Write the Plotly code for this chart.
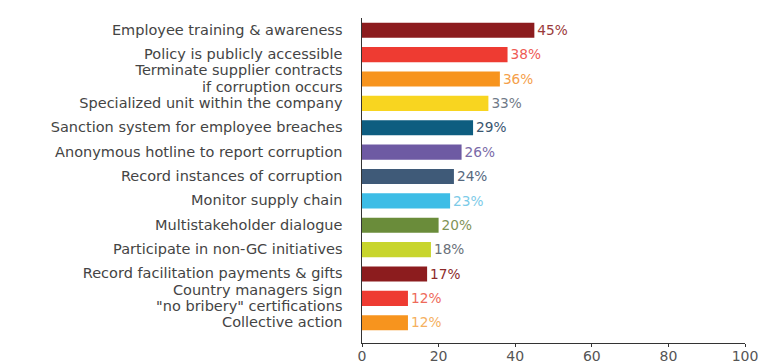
import plotly.graph_objects as go

categories = [
    "Employee training & awareness",
    "Policy is publicly accessible",
    "Terminate supplier contracts<br>if corruption occurs",
    "Specialized unit within the company",
    "Sanction system for employee breaches",
    "Anonymous hotline to report corruption",
    "Record instances of corruption",
    "Monitor supply chain",
    "Multistakeholder dialogue",
    "Participate in non-GC initiatives",
    "Record facilitation payments & gifts",
    "Country managers sign<br>\"no bribery\" certifications",
    "Collective action",
]
values = [45, 38, 36, 33, 29, 26, 24, 23, 20, 18, 17, 12, 12]
bar_colors = ["#8c1c1e", "#ee3b32", "#f7941e", "#f8d520", "#0e5d80", "#6e5aa3",
              "#3f5a78", "#3dbde6", "#6a8c3a", "#c8d52c", "#8c1c1e", "#ee3b32", "#f7941e"]
label_colors = ["#9a3a3a", "#ee5a55", "#f5a04a", "#707a88", "#3a5670", "#7a6aa8",
                "#56687e", "#7ccbe8", "#7f9356", "#6a7078", "#8c2a2a", "#ee6a5a", "#f5b060"]
x_ticks = [0, 20, 40, 60, 80, 100]

# larger glyphs inside a span, while the tick font size sets the (tighter) line spacing
tick_text = ["<br>".join(f'<span style="font-size:14.5px">{part}</span>' for part in c.split("<br>"))
             for c in categories]

fig = go.Figure(go.Bar(
    x=values,
    y=categories,
    orientation="h",
    marker=dict(color=bar_colors, line=dict(width=0)),
    text=[f"{v}%" for v in values],
    textposition="outside",
    cliponaxis=False,
    textfont=dict(color=label_colors, size=14.5, family="DejaVu Sans"),
))

fig.update_layout(
    width=759, height=364,
    margin=dict(l=362, r=14, t=18, b=21),
    paper_bgcolor="white", plot_bgcolor="white",
    bargap=0.38,
    showlegend=False,
    font=dict(family="DejaVu Sans", color="#444444"),
)
fig.update_xaxes(
    range=[0, 100], tickvals=x_ticks, showgrid=False, zeroline=False,
    showline=True, linecolor="#333333", linewidth=1,
    ticks="outside", ticklen=3, tickcolor="#333333",
    tickfont=dict(size=14, color="#555555"),
    automargin=False, ticklabelstandoff=-3, ticklabeloverflow="allow",
)
fig.update_yaxes(
    categoryorder="array", categoryarray=categories,
    tickvals=categories, ticktext=tick_text,
    range=[12.83, -0.5], showgrid=False, zeroline=False,
    showline=True, linecolor="#333333", linewidth=1,
    ticks="", ticklabelstandoff=16, automargin=False,
    tickfont=dict(size=12.6, color="#444444"),
)

fig.write_html("out.html")
